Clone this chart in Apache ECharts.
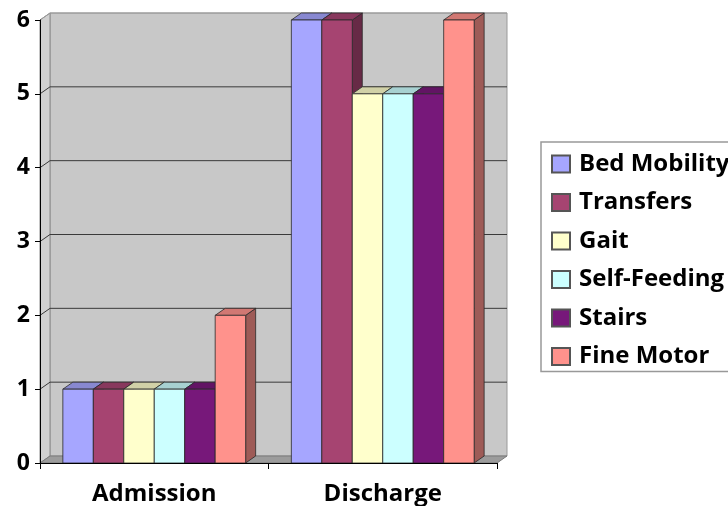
<!DOCTYPE html>
<html>
<head>
<meta charset="utf-8">
<script src="https://cdn.jsdelivr.net/npm/echarts@6/dist/echarts.min.js"></script>
<style>html,body{margin:0;padding:0;background:#fff}#c{width:728px;height:506px}</style>
</head>
<body>
<div id="c"></div>
<script>
const categories = ['Admission', 'Discharge'];
const seriesNames = ['Bed Mobility', 'Transfers', 'Gait', 'Self-Feeding', 'Stairs', 'Fine Motor'];
const bedMobility = [1, 6];
const transfers = [1, 6];
const gait = [1, 5];
const selfFeeding = [1, 5];
const stairs = [1, 5];
const fineMotor = [2, 6];
const yTicks = [0, 1, 2, 3, 4, 5, 6];

const seriesValues = [bedMobility, transfers, gait, selfFeeding, stairs, fineMotor];
const colors = ['#a6a6ff', '#a64471', '#ffffcc', '#ccffff', '#77187a', '#ff928c'];
const DX = 10, DY = -7;
const FONT = 'Open Sans';

function shade(hex, f) {
  const n = parseInt(hex.slice(1), 16);
  const r = Math.round(((n >> 16) & 255) * f), g = Math.round(((n >> 8) & 255) * f), b = Math.round((n & 255) * f);
  return 'rgb(' + r + ',' + g + ',' + b + ')';
}

function barRender(si, color, count) {
  return function (params, api) {
    const cat = api.value(0), val = api.value(1);
    const base = api.coord([cat, 0]);
    const top = api.coord([cat, val]);
    const bandW = api.size([1, 0])[0];
    const groupW = bandW * 0.8;
    const bw = groupW / count;
    const x0 = base[0] - groupW / 2 + si * bw;
    const x1 = x0 + bw;
    const yb = base[1], yt = top[1];
    const stroke = '#2a2a2a';
    return {
      type: 'group',
      children: [
        { type: 'polygon', shape: { points: [[x1, yt], [x1 + DX, yt + DY], [x1 + DX, yb + DY], [x1, yb]] },
          style: { fill: shade(color, 0.62), stroke: stroke, lineWidth: 0.8 } },
        { type: 'polygon', shape: { points: [[x0, yt], [x0 + DX, yt + DY], [x1 + DX, yt + DY], [x1, yt]] },
          style: { fill: shade(color, 0.82), stroke: stroke, lineWidth: 0.8 } },
        { type: 'rect', shape: { x: x0, y: yt, width: bw, height: yb - yt },
          style: { fill: color, stroke: stroke, lineWidth: 0.8 } }
      ]
    };
  };
}

function wallRender(params, api) {
  const cs = params.coordSys;
  const L = cs.x, R = cs.x + cs.width, T = cs.y, B = cs.y + cs.height;
  const children = [
    { type: 'rect', shape: { x: L + DX, y: T + DY, width: R - L, height: B - T },
      style: { fill: '#c8c8c8', stroke: '#9a9a9a', lineWidth: 1 } },
    { type: 'polygon', shape: { points: [[L, T], [L + DX, T + DY], [L + DX, B + DY], [L, B]] },
      style: { fill: '#d0d0d0', stroke: '#8a8a8a', lineWidth: 1 } },
    { type: 'polygon', shape: { points: [[L, B], [L + DX, B + DY], [R + DX, B + DY], [R, B]] },
      style: { fill: '#9c9c9c', stroke: '#7a7a7a', lineWidth: 1 } }
  ];
  yTicks.forEach(function (v) {
    if (v === 0) return;
    const y = api.coord([0, v])[1];
    const last = v === yTicks[yTicks.length - 1];
    children.push({ type: 'polyline', shape: { points: [[L, y], [L + DX, y + DY], [R + DX, y + DY]] },
      style: { fill: null, stroke: last ? '#9a9a9a' : '#3a3a3a', lineWidth: 1 } });
  });
  return { type: 'group', children: children };
}

const series = [{
  name: '_wall', type: 'custom', renderItem: wallRender, data: [[0, 0]], z: 1, silent: true
}];
seriesNames.forEach(function (name, i) {
  series.push({
    name: name, type: 'custom', z: 3 + i,
    renderItem: barRender(i, colors[i], seriesNames.length),
    itemStyle: { color: colors[i], borderColor: '#555', borderWidth: 1 },
    data: categories.map(function (c, ci) { return [ci, seriesValues[i][ci]]; })
  });
});

const chart = echarts.init(document.getElementById('c'));
chart.setOption({
  animation: false,
  grid: { left: 40, right: 231, top: 20, bottom: 43 },
  legend: {
    data: seriesNames, orient: 'vertical', left: 541, top: 142, icon: 'rect',
    itemWidth: 18, itemHeight: 17, itemGap: 14.5,
    padding: [10, 30, 3, 10],
    backgroundColor: '#fff', borderColor: '#999', borderWidth: 1.5,
    textStyle: { fontFamily: FONT, fontWeight: 'bold', fontSize: 24, color: '#000', padding: [0, 0, 0, 4] }
  },
  xAxis: {
    type: 'category', data: categories, z: 10,
    axisLine: { show: true, lineStyle: { color: '#000', width: 1 } },
    axisTick: { show: true, length: 6, lineStyle: { color: '#000' } },
    axisLabel: { fontFamily: FONT, fontWeight: 'bold', fontSize: 24, color: '#000', margin: 19 }
  },
  yAxis: {
    type: 'value', min: 0, max: 6, interval: 1, z: 10,
    axisLine: { show: true, lineStyle: { color: '#000', width: 1 } },
    axisTick: { show: true, length: 5, lineStyle: { color: '#000' } },
    splitLine: { show: false },
    axisLabel: { fontFamily: FONT, fontWeight: 'bold', fontSize: 23, color: '#000', margin: 10 }
  },
  series: series
});
</script>
</body>
</html>
